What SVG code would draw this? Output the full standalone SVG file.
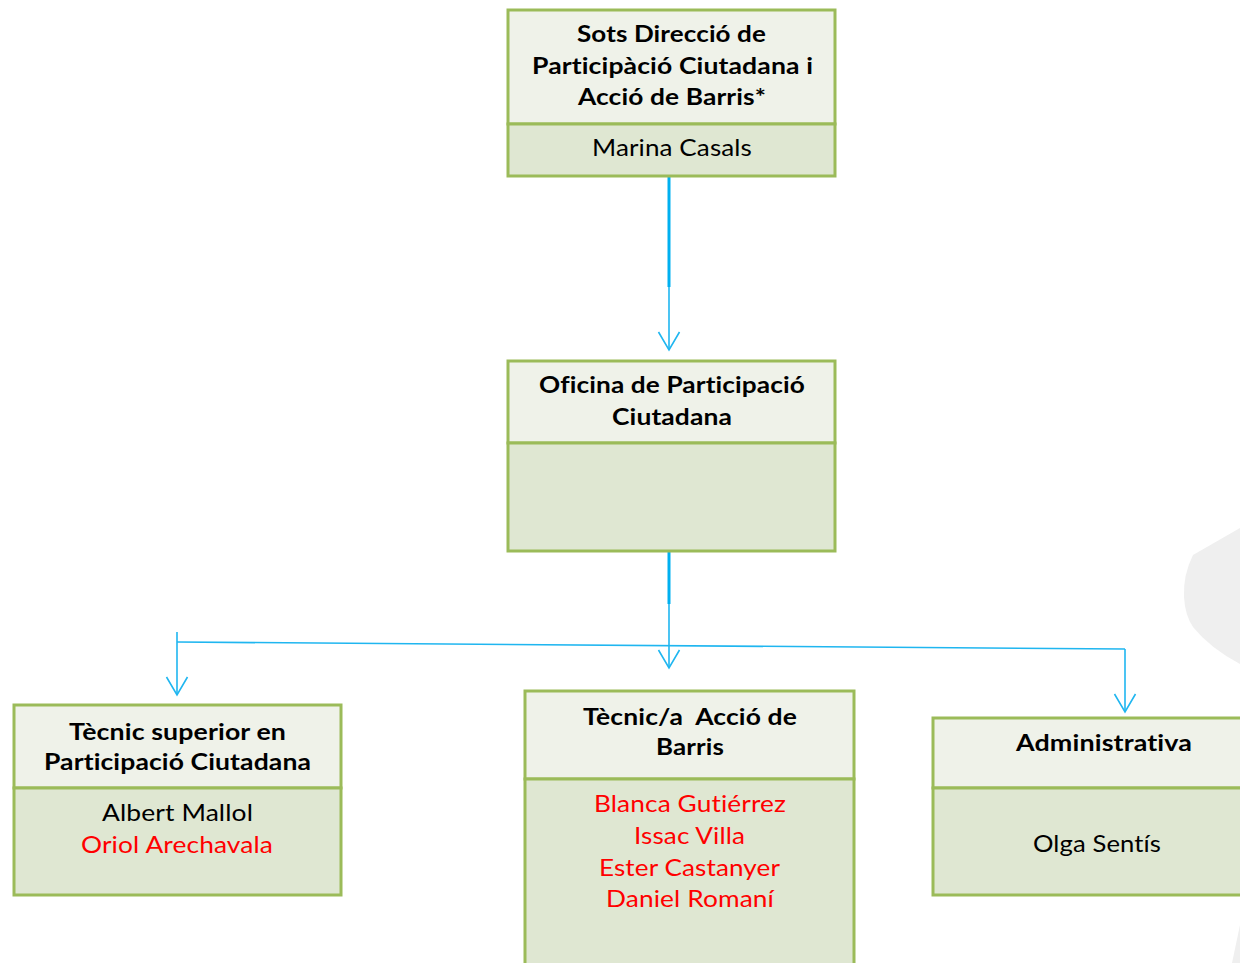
<svg xmlns="http://www.w3.org/2000/svg" width="1240" height="963" viewBox="0 0 1240 963">
<style>
.hdr{fill:#eff2e9;stroke:#9bbb59;stroke-width:3}
.bdy{fill:#dfe7d2;stroke:#9bbb59;stroke-width:3}
.t{font-family:Lato,"Liberation Sans",sans-serif;font-size:23px;text-anchor:middle;fill:#000;font-variant-ligatures:none;font-feature-settings:"liga" 0,"clig" 0,"dlig" 0,"calt" 0;letter-spacing:0.1px}
.b{font-weight:bold}
.r{fill:#ff0000}
.thick{stroke:#00b0f0;stroke-width:3;fill:none}
.thin{stroke:#1fb6f0;stroke-width:1.6;fill:none}
.bg{fill:#efefef}
</style>
<defs>
<marker id="arr" viewBox="-20 -12 24 24" refX="0" refY="0" markerWidth="24" markerHeight="24" markerUnits="userSpaceOnUse" orient="auto">
<path d="M-18,-10.5 L0,0 L-18,10.5" fill="none" stroke="#1fb6f0" stroke-width="1.6"/>
</marker>
</defs>
<rect width="1240" height="963" fill="#ffffff"/>
<path class="bg" d="M1240,528 L1193,555 Q1183,575 1184,597 Q1185,615 1193,627 Q1210,648 1240,664 Z"/>
<path class="bg" d="M1240,925 L1232,963 L1240,963 Z"/>

<g id="connectors">
<line class="thick" x1="669" y1="177" x2="669" y2="287"/>
<line class="thin" x1="669" y1="287" x2="669" y2="350" marker-end="url(#arr)"/>
<line class="thick" x1="669" y1="552" x2="669" y2="604"/>
<line class="thin" x1="669" y1="604" x2="669" y2="668" marker-end="url(#arr)"/>
<polyline class="thin" points="177,642 1125,649"/>
<line class="thin" x1="177" y1="632" x2="177" y2="695" marker-end="url(#arr)"/>
<line class="thin" x1="1125" y1="649" x2="1125" y2="712" marker-end="url(#arr)"/>
</g>

<g id="node-sots-direccio">
<rect class="hdr" x="508" y="10" width="327" height="114"/>
<rect class="bdy" x="508" y="124" width="327" height="52"/>
<text class="t b" x="671.5" y="42" textLength="189" lengthAdjust="spacingAndGlyphs">Sots Direcció de</text>
<text class="t b" x="672.5" y="74" textLength="281" lengthAdjust="spacingAndGlyphs">Participàció Ciutadana i</text>
<text class="t b" x="672" y="105" textLength="188" lengthAdjust="spacingAndGlyphs">Acció de Barris*</text>
<text class="t" x="672" y="156" textLength="160" lengthAdjust="spacingAndGlyphs">Marina Casals</text>
</g>

<g id="node-oficina">
<rect class="hdr" x="508" y="361" width="327" height="82"/>
<rect class="bdy" x="508" y="443" width="327" height="108"/>
<text class="t b" x="672" y="393" textLength="266" lengthAdjust="spacingAndGlyphs">Oficina de Participació</text>
<text class="t b" x="672" y="425" textLength="120" lengthAdjust="spacingAndGlyphs">Ciutadana</text>
</g>

<g id="node-tecnic-superior">
<rect class="hdr" x="14" y="705" width="327" height="83"/>
<rect class="bdy" x="14" y="788" width="327" height="107"/>
<text class="t b" x="177.5" y="740" textLength="217" lengthAdjust="spacingAndGlyphs">Tècnic superior en</text>
<text class="t b" x="177.5" y="770" textLength="267" lengthAdjust="spacingAndGlyphs">Participació Ciutadana</text>
<text class="t" x="177.5" y="821" textLength="151" lengthAdjust="spacingAndGlyphs">Albert Mallol</text>
<text class="t r" x="177" y="853" textLength="192" lengthAdjust="spacingAndGlyphs">Oriol Arechavala</text>
</g>

<g id="node-tecnic-accio">
<rect class="hdr" x="525" y="691" width="329" height="88"/>
<rect class="bdy" x="525" y="779" width="329" height="200"/>
<text class="t b" x="690" y="725" textLength="214" lengthAdjust="spacingAndGlyphs" xml:space="preserve">Tècnic/a  Acció de</text>
<text class="t b" x="690" y="755" textLength="68" lengthAdjust="spacingAndGlyphs">Barris</text>
<text class="t r" x="690" y="812" textLength="192" lengthAdjust="spacingAndGlyphs">Blanca Gutiérrez</text>
<text class="t r" x="689.5" y="844" textLength="111" lengthAdjust="spacingAndGlyphs">Issac Villa</text>
<text class="t r" x="689.5" y="876" textLength="181" lengthAdjust="spacingAndGlyphs">Ester Castanyer</text>
<text class="t r" x="690" y="907" textLength="168" lengthAdjust="spacingAndGlyphs">Daniel Romaní</text>
</g>

<g id="node-administrativa">
<rect class="hdr" x="933" y="718" width="320" height="70"/>
<rect class="bdy" x="933" y="788" width="320" height="107"/>
<text class="t b" x="1104" y="751" textLength="176" lengthAdjust="spacingAndGlyphs">Administrativa</text>
<text class="t" x="1097" y="852" textLength="128" lengthAdjust="spacingAndGlyphs">Olga Sentís</text>
</g>
</svg>
